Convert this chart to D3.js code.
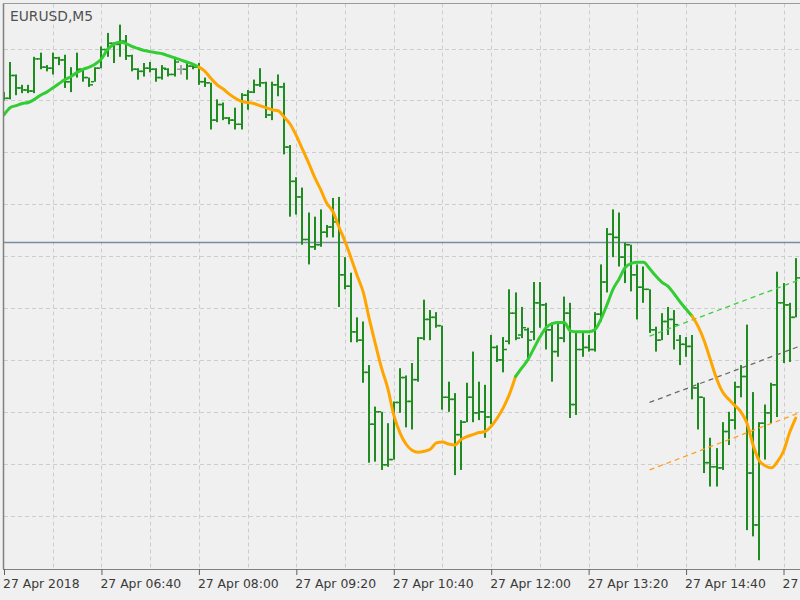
<!DOCTYPE html>
<html><head><meta charset="utf-8">
<script src="https://cdn.jsdelivr.net/npm/d3@7"></script>
<style>html,body{margin:0;padding:0;background:#f0f0f0;} svg{display:block;}</style>
</head><body><svg id="chart" width="800" height="600"></svg>
<script>
// ---------- data ----------
const chartTitle = "EURUSD,M5";
const startTime = "2018-04-27 05:20";
const barMinutes = 5;

const openPrices = [1.21201,1.21202,1.21224,1.21212,1.21210,1.21209,1.21240,1.21232,1.21231,1.21241,
1.21239,1.21218,1.21225,1.21230,1.21222,1.21218,1.21231,1.21249,1.21255,1.21254,
1.21257,1.21243,1.21230,1.21228,1.21231,1.21230,1.21222,1.21230,1.21225,1.21230,
1.21230,1.21233,1.21232,1.21218,1.21217,1.21181,1.21196,1.21183,1.21181,1.21177,
1.21205,1.21208,1.21215,1.21217,1.21186,1.21215,1.21213,1.21155,1.21122,1.21107,
1.21066,1.21059,1.21061,1.21073,1.21078,1.21083,1.21032,1.21021,1.20977,1.20969,
1.20938,1.20888,1.20900,1.20849,1.20854,1.20909,1.20933,1.20910,1.20931,1.20971,
1.20989,1.20991,1.20983,1.20914,1.20912,1.20878,1.20890,1.20914,1.20899,1.20900,
1.20895,1.20962,1.20950,1.20968,1.20995,1.20974,1.20979,1.20977,1.21005,1.21003,
1.20979,1.20958,1.20971,1.20995,1.20907,1.20960,1.20962,1.20960,1.20994,1.21025,
1.21071,1.21068,1.21049,1.21061,1.21032,1.21020,1.21018,1.20979,1.20969,1.20987,
1.20989,1.20969,1.20965,1.20963,1.20923,1.20914,1.20851,1.20847,1.20846,1.20881,
1.20892,1.20924,1.20934,1.20841,1.20791,1.20889,1.20899,1.20926,1.21005,1.21003,
1.20991];

const highPrices = [1.21208,1.21237,1.21225,1.21215,1.21215,1.21242,1.21246,1.21234,1.21246,1.21242,
1.21244,1.21232,1.21246,1.21230,1.21222,1.21232,1.21252,1.21265,1.21256,1.21273,
1.21263,1.21244,1.21231,1.21236,1.21237,1.21231,1.21234,1.21231,1.21242,1.21234,
1.21236,1.21234,1.21236,1.21222,1.21217,1.21201,1.21198,1.21184,1.21193,1.21207,
1.21210,1.21220,1.21231,1.21218,1.21218,1.21225,1.21217,1.21157,1.21126,1.21116,
1.21092,1.21088,1.21095,1.21080,1.21106,1.21107,1.21049,1.21034,1.20991,1.20987,
1.20945,1.20905,1.20900,1.20889,1.20910,1.20942,1.20935,1.20947,1.20972,1.21008,
1.20998,1.20996,1.20983,1.20929,1.20918,1.20892,1.20928,1.20958,1.20929,1.20926,
1.20974,1.20964,1.20972,1.21018,1.21015,1.21001,1.20981,1.21025,1.21025,1.21005,
1.20986,1.20987,1.21011,1.21005,1.20976,1.20976,1.20974,1.20996,1.21042,1.21077,
1.21095,1.21092,1.21063,1.21061,1.21042,1.21040,1.21018,1.20982,1.20995,1.21001,
1.20998,1.20974,1.20972,1.20974,1.20928,1.20914,1.20875,1.20865,1.20890,1.20900,
1.20929,1.20945,1.20984,1.20919,1.20890,1.20907,1.20928,1.21035,1.21024,1.21005,
1.21048];

const lowPrices = [1.21200,1.21201,1.21205,1.21207,1.21207,1.21207,1.21230,1.21228,1.21225,1.21234,
1.21212,1.21208,1.21222,1.21218,1.21213,1.21218,1.21231,1.21242,1.21236,1.21242,
1.21239,1.21228,1.21220,1.21223,1.21227,1.21218,1.21220,1.21223,1.21223,1.21225,
1.21220,1.21230,1.21215,1.21213,1.21172,1.21179,1.21181,1.21177,1.21172,1.21172,
1.21191,1.21207,1.21213,1.21183,1.21181,1.21204,1.21148,1.21088,1.21090,1.21061,
1.21042,1.21056,1.21059,1.21068,1.21068,1.21001,1.21018,1.20967,1.20967,1.20928,
1.20851,1.20852,1.20844,1.20847,1.20854,1.20899,1.20885,1.20883,1.20929,1.20969,
1.20969,1.20981,1.20902,1.20900,1.20839,1.20844,1.20890,1.20890,1.20892,1.20875,
1.20888,1.20948,1.20938,1.20965,1.20969,1.20971,1.20950,1.20969,1.20981,1.20960,
1.20929,1.20953,1.20967,1.20894,1.20897,1.20953,1.20958,1.20958,1.20987,1.21015,
1.21049,1.21040,1.21024,1.21016,1.20989,1.21005,1.20976,1.20958,1.20969,1.20974,
1.20960,1.20945,1.20953,1.20912,1.20883,1.20841,1.20828,1.20828,1.20844,1.20868,
1.20883,1.20914,1.20786,1.20780,1.20757,1.20854,1.20889,1.20895,1.20947,1.20948,
1.20991];

const closePrices = [1.21202,1.21224,1.21212,1.21210,1.21209,1.21240,1.21232,1.21231,1.21241,1.21239,
1.21218,1.21225,1.21230,1.21222,1.21215,1.21231,1.21249,1.21255,1.21254,1.21257,
1.21243,1.21230,1.21228,1.21231,1.21230,1.21222,1.21231,1.21225,1.21237,1.21230,
1.21233,1.21232,1.21218,1.21217,1.21181,1.21196,1.21183,1.21181,1.21177,1.21205,
1.21208,1.21215,1.21217,1.21186,1.21215,1.21213,1.21155,1.21122,1.21107,1.21066,
1.21059,1.21061,1.21073,1.21078,1.21083,1.21032,1.21021,1.20977,1.20969,1.20938,
1.20888,1.20900,1.20849,1.20854,1.20909,1.20933,1.20910,1.20931,1.20971,1.20989,
1.20991,1.20983,1.20914,1.20912,1.20878,1.20890,1.20914,1.20899,1.20900,1.20895,
1.20962,1.20950,1.20960,1.20995,1.20971,1.20981,1.20969,1.21005,1.21003,1.20979,
1.20958,1.20971,1.20995,1.20907,1.20960,1.20962,1.20960,1.20994,1.21025,1.21071,
1.21068,1.21049,1.21061,1.21032,1.21020,1.21018,1.20979,1.20969,1.20987,1.20989,
1.20984,1.20965,1.20963,1.20923,1.20914,1.20851,1.20847,1.20846,1.20881,1.20892,
1.20924,1.20934,1.20841,1.20791,1.20889,1.20899,1.20926,1.21005,1.21003,1.20991,
1.21029];

const maValues = [1.21186,1.21193,1.21195,1.21197,1.21198,1.21201,1.21205,1.21208,1.21212,1.21216,
1.21220,1.21223,1.21227,1.21230,1.21232,1.21235,1.21240,1.21249,1.21254,1.21256,
1.21255,1.21252,1.21250,1.21248,1.21247,1.21246,1.21245,1.21243,1.21241,1.21239,
1.21237,1.21235,1.21232,1.21228,1.21221,1.21215,1.21211,1.21206,1.21202,1.21199,
1.21198,1.21197,1.21195,1.21193,1.21191,1.21190,1.21184,1.21177,1.21166,1.21153,
1.21140,1.21126,1.21114,1.21101,1.21093,1.21078,1.21064,1.21048,1.21031,1.21015,
1.20989,1.20965,1.20942,1.20923,1.20897,1.20880,1.20869,1.20863,1.20861,1.20862,
1.20864,1.20870,1.20871,1.20869,1.20868,1.20873,1.20876,1.20878,1.20880,1.20881,
1.20886,1.20894,1.20904,1.20917,1.20934,1.20942,1.20950,1.20961,1.20972,1.20981,
1.20985,1.20986,1.20986,1.20978,1.20977,1.20977,1.20977,1.20979,1.20989,1.21003,
1.21018,1.21028,1.21039,1.21043,1.21044,1.21044,1.21038,1.21031,1.21025,1.21021,
1.21014,1.21006,1.20999,1.20992,1.20982,1.20968,1.20950,1.20932,1.20919,1.20912,
1.20906,1.20900,1.20889,1.20868,1.20853,1.20848,1.20846,1.20852,1.20862,1.20880,
1.20894];

// bar-index ranges where the MA is in its "up" state (green); elsewhere "down" (orange)
const maUpRanges = [[0, 32], [84, 113]];

const xTickTimes = ["05:20","06:40","08:00","09:20","10:40","12:00","13:20","14:40","16:00"];
const xTickLabels = ["27 Apr 2018","27 Apr 06:40","27 Apr 08:00","27 Apr 09:20","27 Apr 10:40",
                     "27 Apr 12:00","27 Apr 13:20","27 Apr 14:40","27 Apr 16:00"];
const priceGrid = [1.2125,1.2120,1.2115,1.2110,1.2105,1.2100,1.2095,1.2090,1.2085,1.2080];
const hLinePrice = 1.21063;

// regression channel: bar index at start and end, prices at start and end
const channelIdx = [106, 131];
const channelUpper = [1.20973, 1.21028];
const channelMiddle = [1.20909, 1.20964];
const channelLower = [1.20844, 1.20900];

// ---------- drawing ----------
(function () {
const W = 800, H = 600;
const pLeft = 4, pTop = 3.5, pRight = 800, pBottom = 569;
const barStep = 6.09;
const nSlots = 131;

const parse = d3.timeParse("%Y-%m-%d %H:%M");
const t0 = parse(startTime);
const timeAt = i => d3.timeMinute.offset(t0, barMinutes * i);
const bars = openPrices.map((o, i) => ({
  t: timeAt(i), o, h: highPrices[i], l: lowPrices[i], c: closePrices[i]
}));

const x = d3.scaleTime()
  .domain([t0, timeAt(nSlots)])
  .range([pLeft, pLeft + nSlots * barStep]);
const y = d3.scaleLinear()
  .domain([priceGrid[0], priceGrid[priceGrid.length - 1]])
  .range([48.5, 515.6]);

const svg = d3.select("#chart");
svg.append("rect").attr("width", W).attr("height", H).attr("fill", "#f0f0f0");

svg.append("defs").append("clipPath").attr("id", "plotClip")
  .append("rect").attr("x", pLeft).attr("y", pTop).attr("width", pRight - pLeft).attr("height", pBottom - pTop);

const plot = svg.append("g").attr("clip-path", "url(#plotClip)");

// grid
const gridTimes = d3.range(1, 17).map(k => d3.timeMinute.offset(t0, 40 * k));
plot.append("g").selectAll("line").data(priceGrid).join("line")
  .attr("x1", pLeft).attr("x2", pRight)
  .attr("y1", d => Math.round(y(d)) + 0.5).attr("y2", d => Math.round(y(d)) + 0.5)
  .attr("stroke", "#cdcdcd").attr("stroke-width", 1).attr("stroke-dasharray", "4,3");
plot.append("g").selectAll("line").data(gridTimes).join("line")
  .attr("x1", d => Math.round(x(d)) + 0.5).attr("x2", d => Math.round(x(d)) + 0.5)
  .attr("y1", pTop).attr("y2", pBottom)
  .attr("stroke", "#cdcdcd").attr("stroke-width", 1).attr("stroke-dasharray", "4,3");

// horizontal price line
plot.append("line")
  .attr("x1", pLeft).attr("x2", pRight)
  .attr("y1", y(hLinePrice)).attr("y2", y(hLinePrice))
  .attr("stroke", "#7a8ca0").attr("stroke-width", 1.5);

// bars
const barColor = "#1e8c1e", dojiColor = "#a0a0a0";
const gBars = plot.append("g");
bars.forEach(b => {
  const cx = Math.round(x(b.t));
  const col = b.o === b.c ? dojiColor : barColor;
  gBars.append("rect").attr("x", cx - 1).attr("width", 2)
    .attr("y", y(b.h)).attr("height", Math.max(1, y(b.l) - y(b.h))).attr("fill", col);
  gBars.append("rect").attr("x", cx - 4).attr("width", 3)
    .attr("y", y(b.o) - 0.75).attr("height", 1.5).attr("fill", col);
  gBars.append("rect").attr("x", cx + 1).attr("width", 3)
    .attr("y", y(b.c) - 0.75).attr("height", 1.5).attr("fill", col);
});

// channel
const chX = channelIdx.map(i => x(timeAt(i)));
[[channelUpper, "#3ccf3c"], [channelMiddle, "#6a6a6a"], [channelLower, "#ffa01e"]].forEach(([p, col]) => {
  plot.append("line")
    .attr("x1", chX[0]).attr("x2", chX[1])
    .attr("y1", y(p[0])).attr("y2", y(p[1]))
    .attr("stroke", col).attr("stroke-width", 1.3).attr("stroke-dasharray", "5,4");
});

// moving average, coloured by state
const maLine = d3.line().x(d => x(timeAt(d.i))).y(d => y(d.v)).curve(d3.curveMonotoneX);
const maPts = maValues.map((v, i) => ({ i, v }));
const runs = [];
let pos = 0;
maUpRanges.forEach(([a, b]) => {
  if (a > pos) runs.push([pos, a, false]);
  runs.push([a, b, true]);
  pos = b;
});
if (pos < maValues.length - 1) runs.push([pos, maValues.length - 1, false]);
runs.forEach(([a, b, up]) => {
  plot.append("path")
    .datum(maPts.slice(a, b + 1))
    .attr("d", maLine)
    .attr("fill", "none")
    .attr("stroke", up ? "#32cd32" : "#ffa500")
    .attr("stroke-width", 3)
    .attr("stroke-linejoin", "round").attr("stroke-linecap", "round");
});

// frame
svg.append("line").attr("x1", pLeft - 0.5).attr("x2", pLeft - 0.5).attr("y1", pTop).attr("y2", pBottom)
  .attr("stroke", "#808080").attr("stroke-width", 1.5);
svg.append("line").attr("x1", pLeft - 1).attr("x2", pRight).attr("y1", pTop).attr("y2", pTop)
  .attr("stroke", "#9a9a9a").attr("stroke-width", 1);
svg.append("line").attr("x1", pLeft - 1).attr("x2", pRight).attr("y1", pBottom + 0.5).attr("y2", pBottom + 0.5)
  .attr("stroke", "#808080").attr("stroke-width", 1.2);

// title
svg.append("text").attr("x", 10).attr("y", 20.5)
  .attr("font-family", "DejaVu Sans").attr("font-size", "13.8px").attr("fill", "#505050")
  .text(chartTitle);

// x axis (the last label runs off the right edge, as in the source)
const tickDate = s => parse(startTime.slice(0, 11) + s);
const axis = d3.axisBottom(x)
  .tickValues(xTickTimes.map(tickDate))
  .tickSize(6)
  .tickFormat((d, i) => xTickLabels[i]);
const gAxis = svg.append("g").attr("transform", `translate(0,${pBottom})`).call(axis);
gAxis.select(".domain").remove();
gAxis.attr("font-family", "DejaVu Sans").attr("font-size", "12.4px");
gAxis.selectAll(".tick line").attr("stroke", "#606060");
gAxis.selectAll(".tick text")
  .attr("text-anchor", "start").attr("x", -1.5).attr("y", 19).attr("dy", 0)
  .attr("fill", "#3a3a3a");
})();
</script>
</body></html>
